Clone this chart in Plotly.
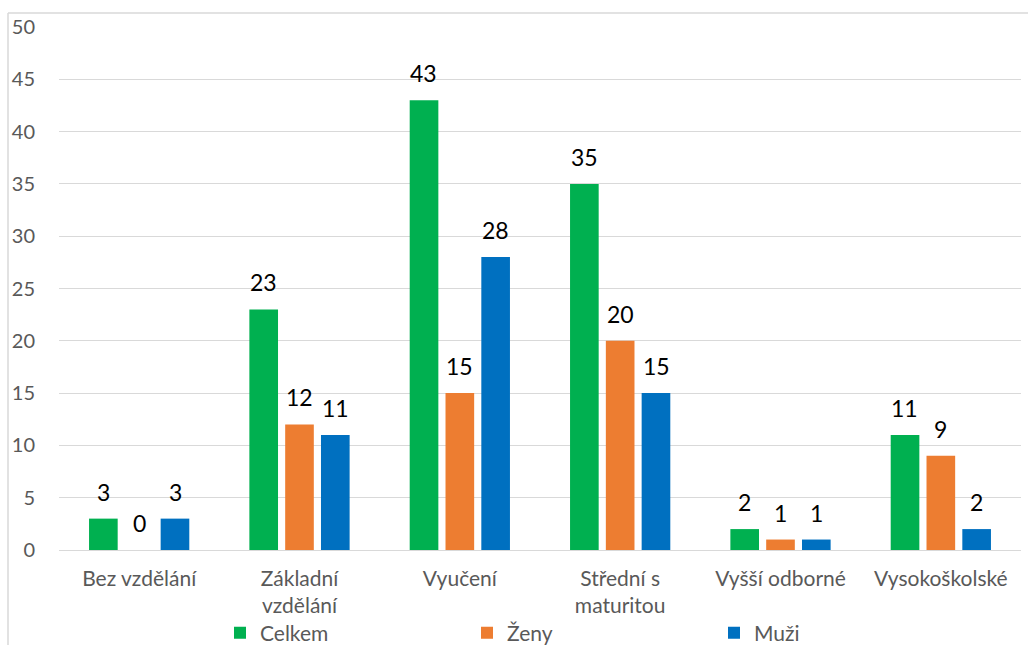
import plotly.graph_objects as go

categories = ["Bez vzdělání", "Základní<br>vzdělání", "Vyučení", "Střední s<br>maturitou", "Vyšší odborné", "Vysokoškolské"]
series_names = ["Celkem", "Ženy", "Muži"]
celkem = [3, 23, 43, 35, 2, 11]
zeny = [0, 12, 15, 20, 1, 9]
muzi = [3, 11, 28, 15, 1, 2]
colors = ["#00b050", "#ed7d31", "#0070c0"]
y_ticks = [0, 5, 10, 15, 20, 25, 30, 35, 40, 45, 50]

FONT = "Lato"
W, H = 1028, 645
ML, MR, MT, MB = 59, 7, 27, 95

fig = go.Figure()
all_series = [celkem, zeny, muzi]
for name, vals, col in zip(series_names, all_series, colors):
    fig.add_trace(go.Bar(x=categories, y=vals, name=name, marker=dict(color=col, line=dict(width=0))))

slot = 36
for i, vals in enumerate(all_series):
    for c, v in zip(categories, vals):
        fig.add_annotation(x=c, y=v, text=str(v), showarrow=False, xshift=(i - 1) * slot,
                           yshift=27, yanchor="middle", font=dict(family=FONT, size=23, color="#000000"))

pw = W - ML - MR
ph = H - MT - MB
fx = (8 - ML) / pw
ftop = 1 + (MT - 13) / ph
fbot = -(MB + 5) / ph
fig.add_shape(type="line", xref="paper", yref="paper", x0=fx, x1=fx, y0=fbot, y1=ftop,
              line=dict(color="#d9d9d9", width=1.5))
fig.add_shape(type="line", xref="paper", yref="paper", x0=fx, x1=1 + (MR + 5) / pw, y0=ftop, y1=ftop,
              line=dict(color="#d9d9d9", width=1.5))

fig.update_layout(
    width=W, height=H,
    margin=dict(l=ML, r=MR, t=MT, b=MB, autoexpand=False),
    paper_bgcolor="white", plot_bgcolor="white",
    barmode="group", bargap=0.33, bargroupgap=0.2,
    font=dict(family=FONT, color="#595959", size=20),
    xaxis=dict(showgrid=False, showline=False, ticks="", tickfont=dict(size=21, color="#595959"),
               ticklabelstandoff=14, automargin=False),
    yaxis=dict(range=[0, 50], tickvals=y_ticks, showgrid=True, gridcolor="#d9d9d9", gridwidth=1,
               zeroline=True, zerolinecolor="#d9d9d9", zerolinewidth=1, showline=False,
               tickfont=dict(size=20, color="#595959"), ticklabelstandoff=23, automargin=False),
    legend=dict(orientation="h", xref="container", yref="container", x=220 / W, xanchor="left",
                y=1 - 633 / H, yanchor="middle", entrywidth=202, entrywidthmode="pixels",
                font=dict(size=21, color="#595959"), bgcolor="rgba(0,0,0,0)", borderwidth=0),
    showlegend=True,
)

fig.write_html("out.html", config={"displayModeBar": False},
               post_script="document.body.style.margin='0';document.body.style.overflow='hidden';")
